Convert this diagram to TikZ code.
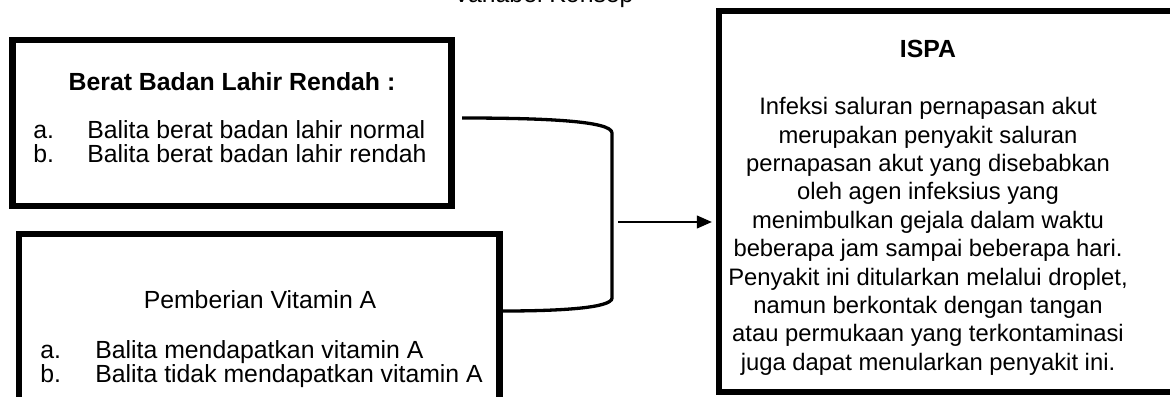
\documentclass[tikz,border=0pt]{standalone}
\usepackage{fontspec}
\setmainfont{Liberation Sans}
\usetikzlibrary{arrows.meta}
\begin{document}
\begin{tikzpicture}[x=0.5pt,y=-0.5pt,
  boxframe/.style={draw,line width=3.2pt,inner sep=0pt},
  txt/.style={font=\fontsize{12.4pt}{14.2pt}\selectfont,inner sep=0pt,anchor=base},
  txtb/.style={txt,font=\fontsize{12.4pt}{14.2pt}\selectfont\bfseries},
  txtr/.style={txt,font=\fontsize{11.9pt}{14.2pt}\selectfont},
  bracket/.style={draw,line width=1.65pt},
  arr/.style={draw,line width=0.6pt,-{Triangle[length=7.5pt,width=6.5pt]},shorten >=2pt}]
\useasboundingbox (0,0) rectangle (1170,396);
\clip (0,0) rectangle (1170,396);
% title (cut at the top, as in the reference)
\node[txt] (judul) at (543.5,3) {Variabel Konsep};
% box 1
\node[boxframe,minimum width=219.5pt,minimum height=83pt] (bblr) at (232,123) {};
\node[txtb] (t1) at (232,90) {Berat Badan Lahir Rendah :};
\node[txt,anchor=base west] (t1a) at (33,138) {a.};
\node[txt,anchor=base west] (t1at) at (87,138) {Balita berat badan lahir normal};
\node[txt,anchor=base west] (t1b) at (33,162) {b.};
\node[txt,anchor=base west] (t1bt) at (87,162) {Balita berat badan lahir rendah};
% box 2
\node[boxframe,minimum width=240.25pt,minimum height=95pt] (pva) at (259.25,329) {};
\node[txt] (t2) at (260,308) {Pemberian Vitamin A};
\node[txt,anchor=base west] (t2a) at (40,358) {a.};
\node[txt,anchor=base west] (t2at) at (95,358) {Balita mendapatkan vitamin A};
\node[txt,anchor=base west] (t2b) at (40,382) {b.};
\node[txt,anchor=base west] (t2bt) at (95,382) {Balita tidak mendapatkan vitamin A};
% right box
\node[boxframe,minimum width=240.5pt,minimum height=190.5pt] (ispa) at (959.5,201.5) {};
\node[txtb] (t3) at (928,57) {ISPA};
\node[txtr,align=center,anchor=north] (isi) at (928,97) {Infeksi saluran pernapasan akut\\
merupakan penyakit saluran\\
pernapasan akut yang disebabkan\\
oleh agen infeksius yang\\
menimbulkan gejala dalam waktu\\
beberapa jam sampai beberapa hari.\\
Penyakit ini ditularkan melalui droplet,\\
namun berkontak dengan tangan\\
atau permukaan yang terkontaminasi\\
juga dapat menularkan penyakit ini.};
% bracket joining the two boxes
\coordinate (kt) at (462,118);
\draw[bracket] (kt) .. controls (545,118) and (612,121) .. (612,133) -- (612,298)
  .. controls (612,308) and (560,311) .. (pva.east |- 0,311);
% arrow
\coordinate (ap) at (618,222);
\draw[arr] (ap) -- (ispa.west |- ap);
\end{tikzpicture}
\end{document}
